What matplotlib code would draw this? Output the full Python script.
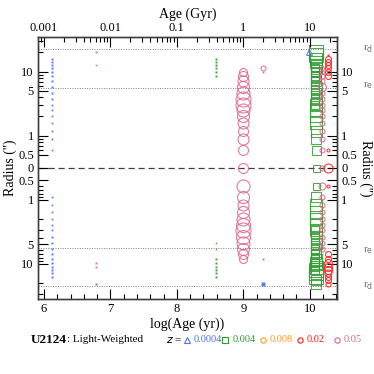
import numpy as np
import matplotlib
matplotlib.use('Agg')
import matplotlib.pyplot as plt

plt.rcParams['font.family'] = ['Liberation Serif', 'DejaVu Serif']

# ── Data ──────────────────────────────────────────────────────────────────────
# radial bins (arcsec), same for both sides of the galaxy
RBIN = [0.6, 0.9, 1.2, 1.55, 2.0, 2.5, 3.0, 3.8, 4.7, 5.8,
        7.1, 8.4, 9.8, 11.2, 12.5, 14.0, 15.9, 18.0, 20.5]
R_E = 5.6
R_D = 22.5

Z_LABELS = ['0.0004', '0.004', '0.008', '0.02', '0.05']
Z_COLORS = ['#4a6ff0', '#2f9e2f', '#ff9a1a', '#ff1a1a', '#e0648e']
Z_MARKERS = ['^', 's', 'o', 'o', 'o']

# populations: log age, metallicity index, marker half-size (px) per bin
# for the upper side, the lower side, and the centre (0 = no light)
POP_AGE = [6.12, 6.78, 6.78, 8.59, 9.00, 9.29, 9.29, 9.99, 10.10, 10.08, 10.19, 10.27]
POP_Z   = [0,    4,    0,    1,    4,    4,    0,    0,    1,     1,     4,     3]
POP_CEN = [0,    0,    0,    0,    5.0,  0,    0,    0,    3.5,   0,     2.5,   4.5]
POP_UP = [
    [.6, .6, .6, .6, .6, .6, .6, .7, .7, .7, .8, .8, .8, .9, .9, .9, .9, 0, 0],
    [0, 0, 0, 0, 0, 0, 0, 0, 0, 0, 0, 0, 0, 0, .5, 0, 0, 0, 1.2],
    [0, 0, 0, 0, 0, 0, 0, 0, 0, 0, 0, 0, 0, 0, 0, 0, 0, 0, 0],
    [0, 0, 0, 0, 0, 0, 0, 0, 0, 0, 0, .8, .9, .9, .9, .9, .9, 0, 0],
    [5, 5.5, 5, 5.5, 6, 6.5, 7.5, 7.5, 6.5, 6, 5.5, 5, 4, 0, 0, 0, 0, 0, 0],
    [0, 0, 0, 0, 0, 0, 0, 0, 0, 0, 0, 0, .6, 2.5, 0, 0, 0, 0, 0],
    [0, 0, 0, 0, 0, 0, 0, 0, 0, 0, 0, 0, 0, 0, 0, 0, 0, 0, 0],
    [0, 0, 0, 0, 0, 0, 0, 0, 0, 0, 0, 0, 0, 0, 0, 0, 0, 0, 3],
    [4.5, 5, 5.5, 6, 6, 6, 6, 5.5, 5, 5.5, 5, 5, 5, 5.5, 5.5, 6, 6, 7, 7],
    [0, 0, 0, 0, 0, 0, 4, 4, 4, 4, 4, 4, 4, 4, 0, 0, 0, 0, 0],
    [2.5, 2.5, 2.5, 2.5, 2.5, 2.5, 2.5, 2.5, 2.5, 4, 2.5, 2.5, 2, 2, 0, 0, 0, 0, 0],
    [1.5, 0, 0, 0, 0, 0, 0, 0, 0, 0, 0, 3, 3, 3, 3, 3, 3, 1, 0],
]
POP_LO = [
    [0, .6, .6, .6, .6, .6, .6, .7, .7, .7, .8, .8, .9, .9, .9, .9, .9, 0, 0],
    [0, 0, 0, 0, 0, 0, 0, 0, 0, 0, 0, 0, .7, .7, 0, 0, 0, 0, 0],
    [0, 0, 0, 0, 0, 0, 0, 0, 0, 0, 0, 0, 0, 0, 0, 0, 0, 0, 1.2],
    [0, 0, 0, 0, 0, 0, 0, 0, .5, .5, 0, .8, 1.2, 1, .9, .9, .9, 0, 0],
    [6.5, 6, 5.5, 6, 6.5, 7, 7.5, 7, 6.5, 6, 5, 4, 0, 0, 0, 0, 0, 0, 0],
    [0, 0, 0, 0, 0, 0, 0, 0, 0, 0, 0, 1, 0, 0, 0, 0, 0, 0, 0],
    [0, 0, 0, 0, 0, 0, 0, 0, 0, 0, 0, 0, 0, 0, 0, 0, 0, 0, 1.3],
    [0, 0, 0, 0, 0, 0, 0, 0, 0, 0, 0, 0, 0, 0, 0, 0, 0, 0, 0],
    [3.5, 5, 6, 6, 6, 6, 6, 5.5, 5.5, 5, 5, 5.5, 6, 6.5, 7, 7, 7, 5, 5],
    [0, 0, 0, 0, 0, 0, 4, 4, 4, 4, 4, 4, 4, 4, 4, 0, 0, 0, 0],
    [3.5, 2.5, 2.5, 2.5, 2.5, 2.5, 2.5, 2.5, 2.5, 2.5, 0, 0, 0, 0, 0, 0, 0, 0, 0],
    [1.5, 0, 0, 0, 0, 0, 0, 0, 0, 0, 3, 3, 4, 4, 4, 3.5, 3, 3, 2.5],
]

XLIM = (5.91, 10.41)
YLIM = (-2.05, 2.04)


def ypos(r, side):
    # log radius, folded so that r=0 sits on the midline
    r = np.asarray(r, dtype=float)
    return side * (np.log10(r) + 0.5)


# ── Figure ────────────────────────────────────────────────────────────────────
fig = plt.figure(figsize=(3.74, 3.74), dpi=100)
ax = fig.add_axes([0.1016, 0.2005, 0.7995, 0.7005])
ax.set_xlim(*XLIM)
ax.set_ylim(*YLIM)

for side in (1, -1):
    for r in (R_E, R_D):
        ax.axhline(ypos(r, side), color='0.5', ls=(0, (1, 1.5)), lw=0.7, zorder=1)
ax.axhline(0, color='0.25', ls=(0, (5, 3)), lw=0.9, zorder=1)

px2pt = 0.72
for age, zi, cen, up, lo in zip(POP_AGE, POP_Z, POP_CEN, POP_UP, POP_LO):
    col, mk = Z_COLORS[zi], Z_MARKERS[zi]
    pts = [(0.0, cen)] if cen > 0 else []
    pts += [(ypos(r, 1), s) for r, s in zip(RBIN, up) if s > 0]
    pts += [(ypos(r, -1), s) for r, s in zip(RBIN, lo) if s > 0]
    for y, s in pts:
        if s > 1.4:
            ax.plot(age, y, marker=mk, ms=2 * s * px2pt, mfc='none', mec=col,
                    mew=0.8, ls='none', alpha=0.85, zorder=3)
        else:
            # tiny weights show up as dots
            ax.plot(age, y, marker='s', ms=2 * s * px2pt + 0.4, mfc=col, mec='none',
                    ls='none', alpha=0.9, zorder=3)

# bottom axis
ax.set_xticks([6, 7, 8, 9, 10])
ax.set_xticks(np.arange(6.0, 10.41, 0.2), minor=True)
ax.set_xlabel('log(Age (yr))', fontsize=10, labelpad=2)

# folded radius ticks
maj_r = [0.5, 1, 5, 10]
min_r = [0.6, 0.7, 0.8, 0.9, 2, 3, 4, 6, 7, 8, 9, 20, 30]
yt = [0.0] + [ypos(r, s) for s in (1, -1) for r in maj_r]
yl = ['0'] + [f'{r:g}' for s in (1, -1) for r in maj_r]
ax.set_yticks(yt)
ax.set_yticklabels(yl)
ax.set_yticks([ypos(r, s) for s in (1, -1) for r in min_r], minor=True)
ax.set_ylabel("Radius ('')", fontsize=10, labelpad=1)

ax.tick_params(which='both', direction='in', top=False, right=True,
               labelsize=9, pad=3)
ax.tick_params(which='major', length=7, width=0.8)
ax.tick_params(which='minor', length=3.5, width=0.8)
ax.tick_params(axis='y', labelright=True)
for sp in ax.spines.values():
    sp.set_linewidth(1.0)
    sp.set_color('0.25')

# right-side label
ax.text(1.095, 0.5, "Radius ('')", transform=ax.transAxes, rotation=-90,
        ha='center', va='center', fontsize=10)

# r_e / r_d markers on the right
for side in (1, -1):
    ax.text(1.105, ypos(R_D, side), r'r$_{\rm d}$', transform=ax.get_yaxis_transform(),
            ha='center', va='center', fontsize=8, color='0.45')
    ax.text(1.105, ypos(R_E, side) + 0.04 * side, r'r$_{\rm e}$',
            transform=ax.get_yaxis_transform(), ha='center', va='center',
            fontsize=8, color='0.45')

# top axis: age in Gyr
top = ax.twiny()
top.set_xscale('log')
top.set_xlim(10 ** (XLIM[0] - 9), 10 ** (XLIM[1] - 9))
top.set_xticks([0.001, 0.01, 0.1, 1, 10])
top.set_xticklabels(['0.001', '0.01', '0.1', '1', '10'])
top.tick_params(which='both', direction='in', labelsize=9, pad=2)
top.tick_params(which='major', length=7, width=0.8)
top.tick_params(which='minor', length=3.5, width=0.8)
top.set_xlabel('Age (Gyr)', fontsize=10, labelpad=3)
for sp in top.spines.values():
    sp.set_linewidth(1.0)
    sp.set_color('0.25')

# bottom legend line
ly = 0.091
fig.text(0.083, ly, 'U2124', fontsize=9.5, fontweight='bold', va='center')
fig.text(0.18, ly, ': Light-Weighted', fontsize=8, va='center')
fig.text(0.445, ly, r'$z$ =', fontsize=8, va='center')
leg_x = [0.50, 0.602, 0.703, 0.802, 0.901]
for x, lab, col, mk in zip(leg_x, Z_LABELS, Z_COLORS, Z_MARKERS):
    fig.lines.append(plt.Line2D([x], [ly], marker=mk, ms=3.8, mfc='none', mec=col,
                                mew=0.8, transform=fig.transFigure))
    fig.text(x + 0.019, ly, lab, fontsize=7.5, color=col, va='center')

fig.savefig('out.png', dpi=100)
